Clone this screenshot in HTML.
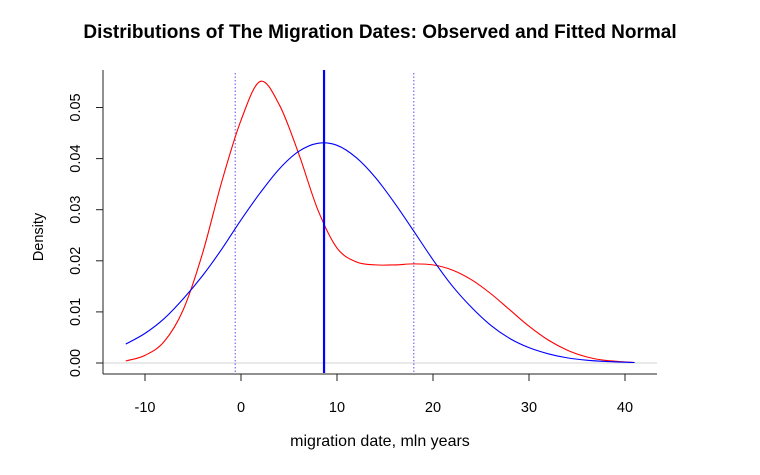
<!DOCTYPE html>
<html><head><meta charset="utf-8"><style>
body{margin:0;background:#fff}
svg{display:block;font-family:"Liberation Sans",Arial,sans-serif}
</style></head><body>
<svg id="chart" width="760" height="475">
<text x="380" y="38" text-anchor="middle" font-size="19" font-weight="bold">Distributions of The Migration Dates: Observed and Fitted Normal</text>
<text x="380" y="446" text-anchor="middle" font-size="16">migration date, mln years</text>
<text transform="translate(43,237) rotate(-90)" text-anchor="middle" font-size="14.5">Density</text>
<g id="plot"></g>
</svg>
<script>
const xTicks=[-10,0,10,20,30,40];
const yTicks=[0,0.01,0.02,0.03,0.04,0.05];
const yTickLabels=["0.00","0.01","0.02","0.03","0.04","0.05"];
const obsX=[-12,-10,-8,-6,-4,-2,0,2,4,6,8,10,12,14,16,18,20,22,24,26,28,30,32,34,36,38,41];
const obsY=[0.0004,0.0015,0.0042,0.0105,0.0215,0.0355,0.0475,0.0551,0.0505,0.041,0.030,0.0225,0.0198,0.0192,0.0192,0.0194,0.0192,0.0182,0.0163,0.0136,0.0104,0.0072,0.0045,0.0025,0.0012,0.0005,0.0001];
const fitX=[-12,-10,-8,-6,-4,-2,0,2,4,6,8,10,12,14,16,18,20,22,24,26,28,30,32,34,36,38,41];
const fitY=[0.0037,0.0058,0.0087,0.0126,0.0171,0.0223,0.0280,0.0333,0.0380,0.0414,0.0430,0.0426,0.0402,0.0363,0.0313,0.0258,0.0202,0.0151,0.0109,0.0074,0.0048,0.0030,0.0018,0.0010,0.00055,0.0003,0.0001];
const fitMean=[8.65];
const sdBounds=[-0.6,18.0];
const X=v=>241+v*9.6;
const Y=v=>363-v*5110;
const NS="http://www.w3.org/2000/svg";
const g=document.getElementById('plot');
function mk(t,a){const e=document.createElementNS(NS,t);for(const k in a)e.setAttribute(k,a[k]);g.appendChild(e);return e;}
function smooth(xs,ys){const p=xs.map((x,i)=>[X(x),Y(ys[i])]);let d=`M${p[0][0]},${p[0][1]}`;
for(let i=0;i<p.length-1;i++){const p0=p[i-1]||p[i],p1=p[i],p2=p[i+1],p3=p[i+2]||p2;
d+=` C${p1[0]+(p2[0]-p0[0])/6},${p1[1]+(p2[1]-p0[1])/6} ${p2[0]-(p3[0]-p1[0])/6},${p2[1]-(p3[1]-p1[1])/6} ${p2[0]},${p2[1]}`;}return d;}
let e;
e=mk('line',{x1:103,x2:657,y1:Y(0),y2:Y(0),stroke:'#d3d3d3','stroke-width':1});

e=mk('line',{x1:103,x2:103,y1:70,y2:374,stroke:'#222','stroke-width':1});

e=mk('line',{x1:103,x2:657,y1:374,y2:374,stroke:'#222','stroke-width':1});

xTicks.forEach(t=>{
 e=mk('line',{x1:X(t),x2:X(t),y1:374,y2:381,stroke:'#222'});
 
 e=mk('text',{x:X(t),y:412,'text-anchor':'middle','font-size':14.5});e.textContent=t;
 
});
yTicks.forEach((t,i)=>{
 e=mk('line',{x1:96,x2:103,y1:Y(t),y2:Y(t),stroke:'#222'});
 
 e=mk('text',{transform:`translate(80,${Y(t)}) rotate(-90)`,'text-anchor':'middle','font-size':14.5});e.textContent=yTickLabels[i];
 
});
sdBounds.forEach(v=>{
 e=mk('line',{x1:X(v),x2:X(v),y1:73,y2:373,stroke:'#7b68ee','stroke-width':1.2,'stroke-dasharray':'1.5,2'});
 
});
e=mk('path',{d:smooth(obsX,obsY),fill:'none',stroke:'#ff0000','stroke-width':1.1});

e=mk('path',{d:smooth(fitX,fitY),fill:'none',stroke:'#0000ff','stroke-width':1.1});

e=mk('line',{x1:X(fitMean[0]),x2:X(fitMean[0]),y1:70,y2:373,stroke:'#0000ff','stroke-width':2.2});

</script>
</body></html>
